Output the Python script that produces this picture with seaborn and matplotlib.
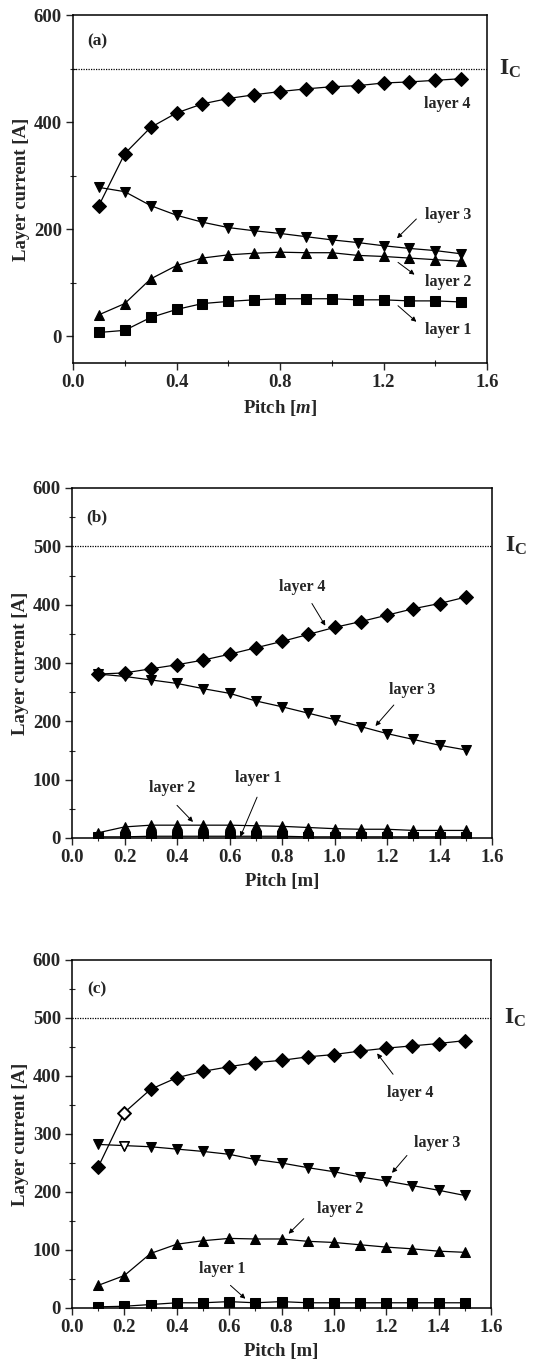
import numpy as np
import pandas as pd
import matplotlib
matplotlib.use("Agg")
import matplotlib.pyplot as plt
from matplotlib.ticker import MultipleLocator
import seaborn as sns

sns.set_theme(style="white")
plt.rcParams['font.family'] = ['Liberation Serif', 'DejaVu Serif']
plt.rcParams['font.weight'] = 'bold'
plt.rcParams['mathtext.fontset'] = 'custom'
plt.rcParams['mathtext.rm'] = 'Liberation Serif:bold'
plt.rcParams['mathtext.bf'] = 'Liberation Serif:bold'
plt.rcParams['mathtext.it'] = 'Liberation Serif:italic:bold'

pitch = [0.1, 0.2, 0.3, 0.4, 0.5, 0.6, 0.7, 0.8, 0.9, 1.0, 1.1, 1.2, 1.3, 1.4, 1.5]

# panel (a)
a_layer1 = [7, 11, 35, 50, 61, 65, 68, 70, 70, 70, 68, 68, 66, 66, 64]
a_layer2 = [40, 61, 107, 132, 146, 152, 155, 157, 156, 156, 151, 149, 146, 143, 140]
a_layer3 = [278, 270, 244, 226, 213, 203, 197, 192, 186, 180, 175, 169, 164, 160, 154]
a_layer4 = [244, 341, 390, 417, 434, 444, 451, 457, 462, 466, 468, 473, 475, 478, 481]

# panel (b)
b_layer1 = [2, 2, 3, 3, 3, 3, 3, 3, 2, 2, 2, 2, 2, 2, 2]
b_layer2 = [9, 19, 22, 22, 22, 22, 21, 20, 18, 16, 15, 15, 13, 13, 13]
b_layer3 = [281, 277, 271, 265, 256, 248, 235, 225, 214, 203, 191, 179, 169, 159, 151]
b_layer4 = [281, 283, 290, 297, 305, 315, 326, 337, 349, 361, 371, 382, 393, 402, 413]

# panel (c)
c_layer1 = [2, 3, 6, 9, 9, 11, 9, 11, 9, 9, 9, 9, 9, 9, 9]
c_layer2 = [39, 56, 94, 110, 116, 120, 119, 119, 115, 113, 109, 105, 102, 98, 96]
c_layer3 = [282, 280, 278, 274, 270, 265, 256, 250, 242, 235, 226, 219, 211, 203, 194]
c_layer4 = [243, 337, 377, 397, 408, 416, 423, 427, 433, 437, 443, 448, 452, 456, 461]

# points printed with hollow markers in panel (c)
c_open_pitch = [0.2]
c_open_layers = ["layer 3", "layer 4"]

critical_current = 500
layer_names = ["layer 1", "layer 2", "layer 3", "layer 4"]
panel_tags = ["(a)", "(b)", "(c)"]
xlabels = [r"Pitch [$\mathit{m}$]", "Pitch [m]", "Pitch [m]"]

markers = {"layer 1": "s", "layer 2": "^", "layer 3": "v", "layer 4": "D"}
msizes = {"layer 1": 6.5, "layer 2": 7.5, "layer 3": 7.5, "layer 4": 7}

# annotation layout per panel: (text_x, text_y, arrow (tail_x, tail_y, head_x, head_y) or None)
annots = [
    {"layer 4": (1.445, 433, None),
     "layer 3": (1.45, 226, (1.327, 219, 1.252, 183)),
     "layer 2": (1.45, 101, (1.256, 138, 1.32, 115)),
     "layer 1": (1.45, 11, (1.256, 57, 1.327, 27))},
    {"layer 4": (0.876, 431, (0.914, 402, 0.965, 364)),
     "layer 3": (1.295, 254, (1.226, 228, 1.156, 192)),
     "layer 2": (0.381, 85, (0.40, 56, 0.461, 27.5)),
     "layer 1": (0.711, 102, (0.705, 70, 0.641, 2))},
    {"layer 4": (1.292, 371, (1.226, 403, 1.165, 439)),
     "layer 3": (1.394, 284, (1.279, 263, 1.222, 233)),
     "layer 2": (1.025, 171, (0.885, 154, 0.827, 128)),
     "layer 1": (0.573, 68, (0.605, 39, 0.662, 16))},
]

panels = [
    [a_layer1, a_layer2, a_layer3, a_layer4],
    [b_layer1, b_layer2, b_layer3, b_layer4],
    [c_layer1, c_layer2, c_layer3, c_layer4],
]

W, H = 534, 1366
fig = plt.figure(figsize=(W / 100, H / 100), dpi=100)
rects = [
    [73 / W, 1 - 363 / H, 414 / W, 348 / H],
    [72 / W, 1 - 838 / H, 420 / W, 350 / H],
    [72 / W, 1 - 1308 / H, 419 / W, 348 / H],
]

for i, (rect, series) in enumerate(zip(rects, panels)):
    ax = fig.add_axes(rect)
    df = pd.DataFrame({"pitch": pitch * 4,
                       "current": sum(series, []),
                       "layer": sum([[n] * len(pitch) for n in layer_names], [])})
    for name in layer_names:
        sub = df[df.layer == name]
        sns.lineplot(data=sub, x="pitch", y="current", ax=ax, color="black",
                     lw=0.9, marker=markers[name], markersize=msizes[name],
                     markeredgecolor="black", markerfacecolor="black",
                     estimator=None, sort=False, legend=False)
        if i == 2 and name in c_open_layers:
            op = sub[sub.pitch.round(2).isin(c_open_pitch)]
            sns.scatterplot(data=op, x="pitch", y="current", ax=ax,
                            marker=markers[name], s=msizes[name] ** 2 * 0.75,
                            color="white", edgecolor="black", linewidth=1.0,
                            legend=False, zorder=5)
    ax.axhline(critical_current, color="black", ls=(0, (1, 1)), lw=0.9)
    ax.set_xlim(0, 1.6)
    if i == 0:
        ax.set_ylim(-50, 600)
        ax.yaxis.set_major_locator(MultipleLocator(200))
        ax.yaxis.set_minor_locator(MultipleLocator(100))
        ax.xaxis.set_major_locator(MultipleLocator(0.4))
        ax.xaxis.set_minor_locator(MultipleLocator(0.2))
    else:
        ax.set_ylim(0, 600)
        ax.yaxis.set_major_locator(MultipleLocator(100))
        ax.yaxis.set_minor_locator(MultipleLocator(50))
        ax.xaxis.set_major_locator(MultipleLocator(0.2))
        ax.xaxis.set_minor_locator(MultipleLocator(0.1))
    ax.xaxis.set_major_formatter(matplotlib.ticker.FormatStrFormatter('%.1f'))
    ax.tick_params(which="major", direction="out", length=5, width=1,
                   bottom=True, left=True, labelsize=13.5, pad=3)
    ax.tick_params(which="minor", direction="inout", length=4, width=0.8,
                   bottom=True, left=True)
    for lab in ax.get_xticklabels() + ax.get_yticklabels():
        lab.set_fontweight("bold")
    for sp in ax.spines.values():
        sp.set_color("black")
        sp.set_linewidth(1.1)
    ax.set_xlabel(xlabels[i], fontsize=13.5, fontweight="bold", labelpad=5)
    ax.set_ylabel("Layer current [A]", fontsize=13.5, fontweight="bold", labelpad=3)
    ax.grid(False)

    ax.text(0.095, 550, panel_tags[i], fontsize=12.5, fontweight="bold",
            ha="center", va="center")
    ax.text(1.03, critical_current, r"$\mathrm{I}_{\mathrm{C}}$", fontsize=17,
            transform=ax.get_yaxis_transform(), ha="left", va="center")

    for name in layer_names:
        tx, ty, arr = annots[i][name]
        ax.text(tx, ty, name, fontsize=11.5, fontweight="bold",
                ha="center", va="center")
        if arr is not None:
            x0, y0, x1, y1 = arr
            ax.annotate("", xy=(x1, y1), xytext=(x0, y0),
                        arrowprops=dict(arrowstyle="-|>", color="black",
                                        lw=0.7, mutation_scale=7,
                                        shrinkA=0, shrinkB=0))

fig.savefig("out.png", dpi=100)
